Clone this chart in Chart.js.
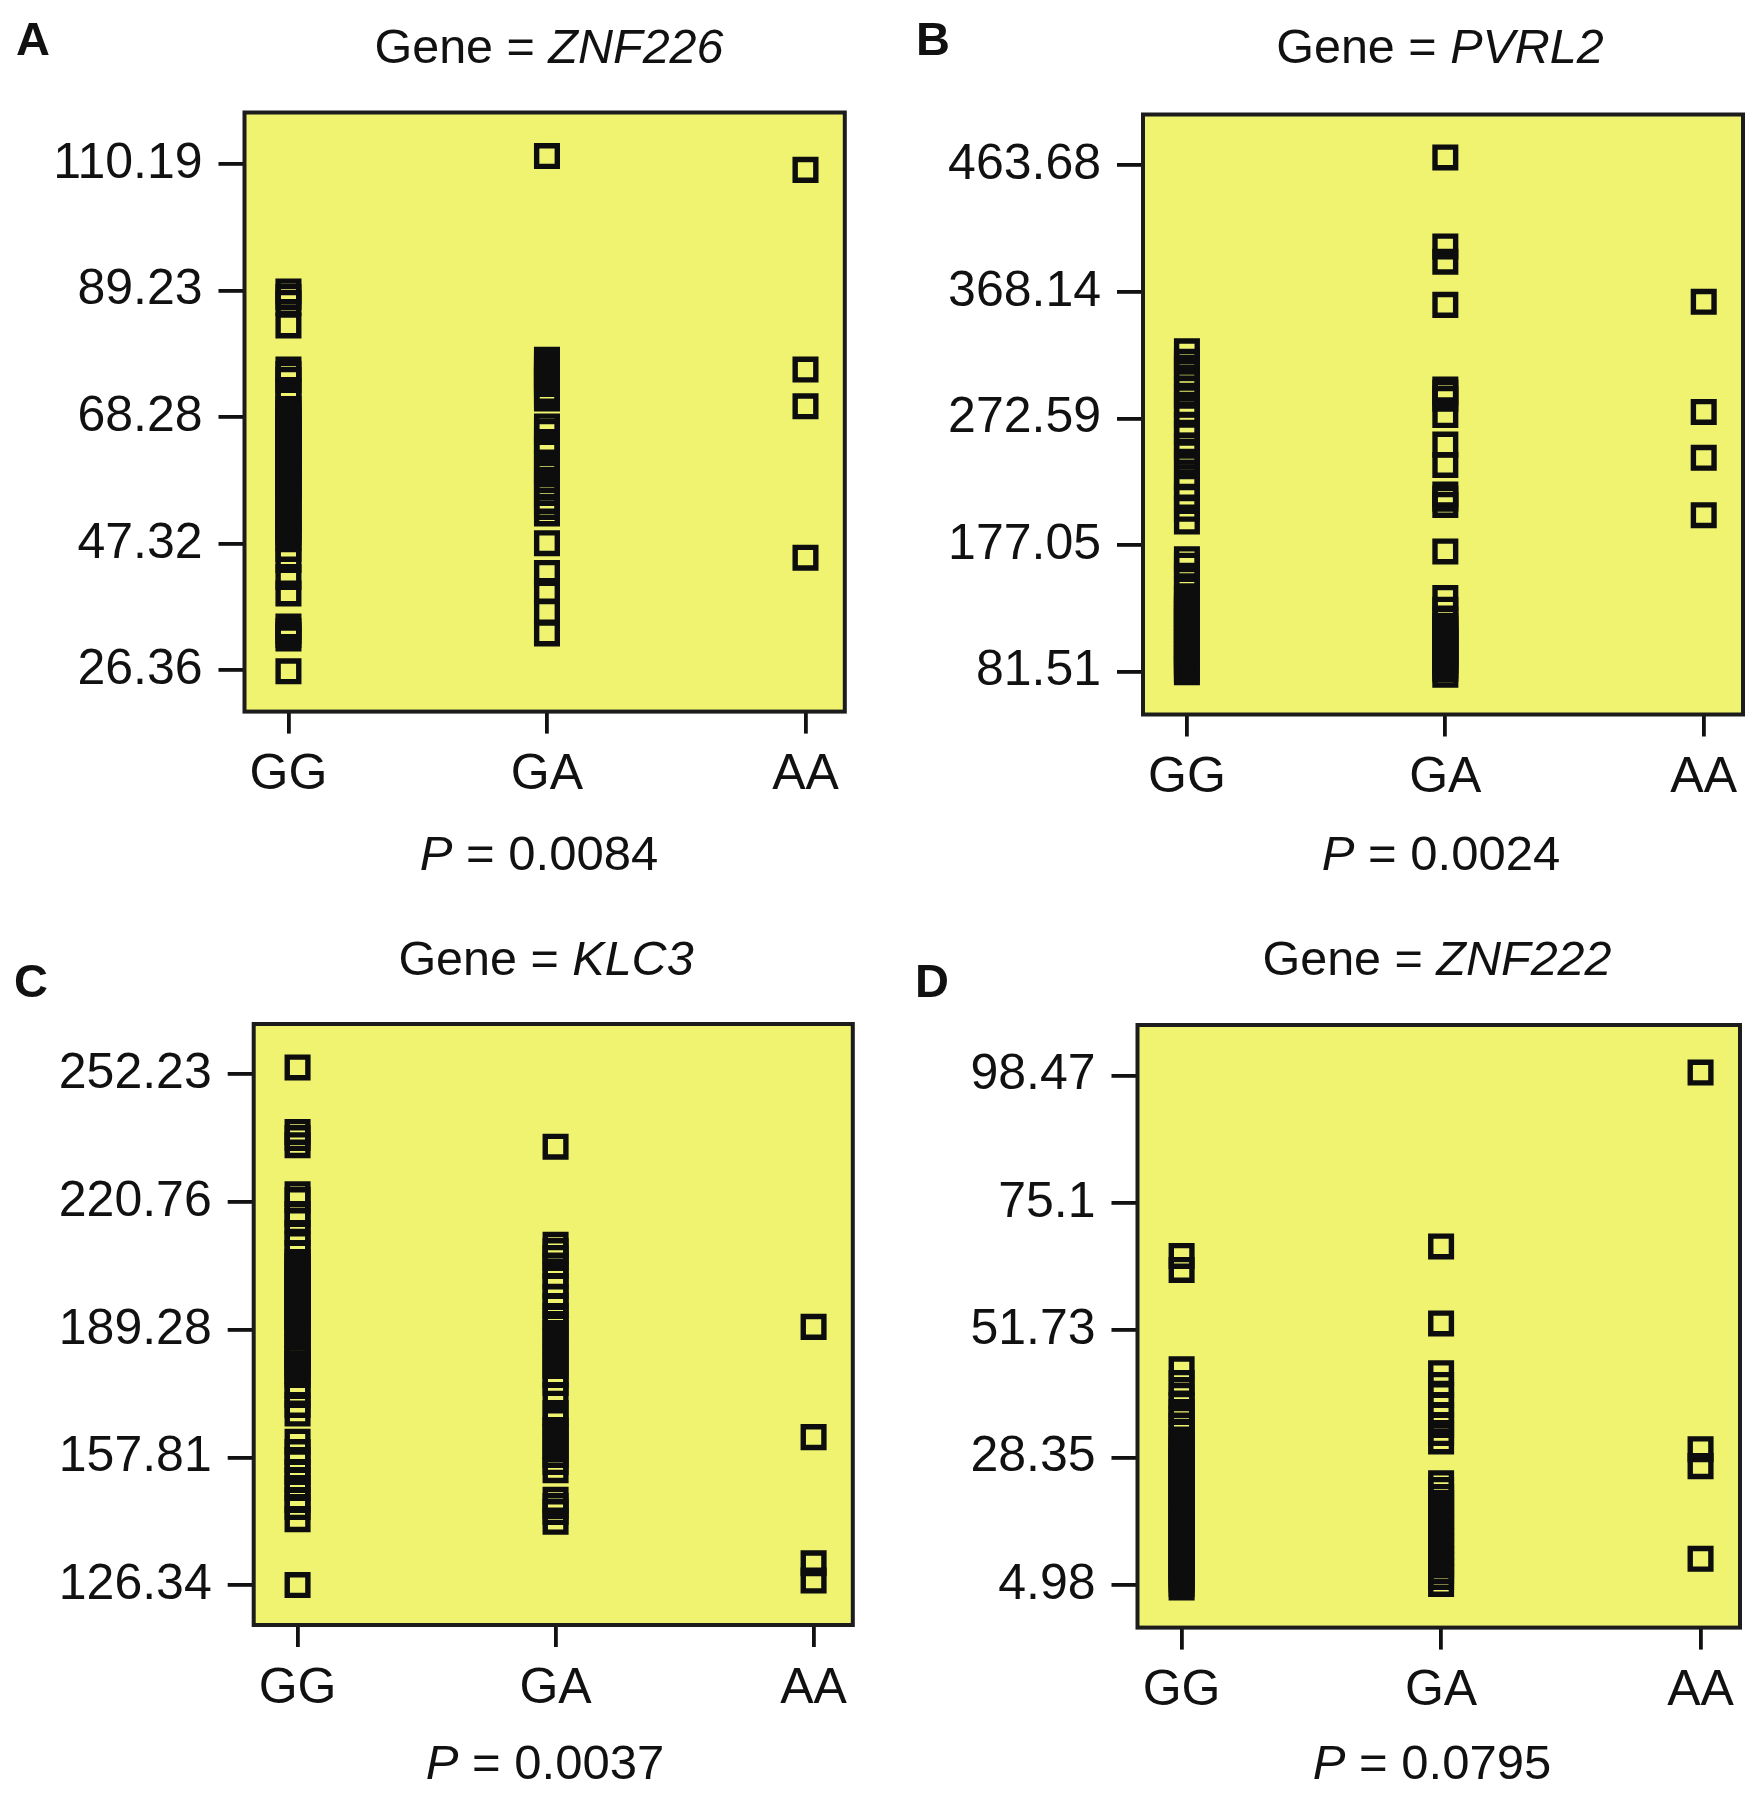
<!DOCTYPE html>
<html>
<head>
<meta charset="utf-8">
<script src="https://cdn.jsdelivr.net/npm/chart.js@4/dist/chart.umd.min.js"></script>
<style>
  html,body{margin:0;padding:0;background:#fff;}
  body{width:1763px;height:1800px;position:relative;overflow:hidden;font-family:"Liberation Sans",Arial,Helvetica,sans-serif;color:#111;}
  .cv{position:absolute;}
  .t{position:absolute;font-size:48.5px;line-height:1;white-space:nowrap;color:#111;}
  .p{font-size:49px;}
  .c{transform:translateX(-50%);}
  .b{font-weight:bold;font-size:47px;}
</style>
</head>
<body>
<div class="cv" style="left:0;top:0;"><canvas id="cA" width="880" height="900"></canvas></div>
<div class="cv" style="left:880px;top:0;"><canvas id="cB" width="883" height="900"></canvas></div>
<div class="cv" style="left:0;top:900px;"><canvas id="cC" width="880" height="900"></canvas></div>
<div class="cv" style="left:880px;top:900px;"><canvas id="cD" width="883" height="900"></canvas></div>

<div class="t b" style="left:16px;top:15px;">A</div>
<div class="t c" style="left:549px;top:22px;">Gene = <i>ZNF226</i></div>
<div class="t c p" style="left:539px;top:829px;"><i>P</i> = 0.0084</div>

<div class="t b" style="left:916px;top:15px;">B</div>
<div class="t c" style="left:1440px;top:22px;">Gene = <i>PVRL2</i></div>
<div class="t c p" style="left:1441px;top:829px;"><i>P</i> = 0.0024</div>

<div class="t b" style="left:14px;top:957px;">C</div>
<div class="t c" style="left:546px;top:934px;">Gene = <i>KLC3</i></div>
<div class="t c p" style="left:545px;top:1738px;"><i>P</i> = 0.0037</div>

<div class="t b" style="left:915px;top:957px;">D</div>
<div class="t c" style="left:1437px;top:934px;">Gene = <i>ZNF222</i></div>
<div class="t c p" style="left:1432px;top:1738px;"><i>P</i> = 0.0795</div>

<script>
// ---------- data ----------
const categories = ["GG", "GA", "AA"];

// Panel A : ZNF226
const A_ticks = [26.36, 47.32, 68.28, 89.23, 110.19];
const A_GG = [89.09, 88.18, 87.19, 83.46, 76.18, 75.43, 74.44, 72.62, 71.13, 69.64,
  68.9, 68.3, 67.8, 67.1, 66.6, 66.0, 65.4, 64.9, 64.3, 63.7, 63.1, 62.6, 62.0, 61.4,
  60.9, 60.2, 59.7, 59.1, 58.5, 57.9, 57.4, 56.8, 56.2, 55.6, 55.0, 54.4, 53.8,
  51.75, 51.09, 50.43, 49.77, 49.1, 48.28, 46.46, 44.63, 41.82, 39.08,
  33.62, 32.88, 32.22, 31.64, 26.2];
const A_GA = [111.51, 77.78, 77.09, 76.43, 75.76, 75.27, 74.77, 74.27, 73.78, 72.62, 71.96, 71.38,
  66.74, 65.83, 64.17, 63.34, 62.52, 60.69, 59.70, 58.87, 57.88, 56.72, 55.73, 54.40, 53.41, 52.33,
  47.40, 42.48, 39.50, 36.02, 32.46];
const A_AA = [109.23, 76.16, 70.08, 45.00];

// Panel B : PVRL2
const B_ticks = [81.51, 177.05, 272.59, 368.14, 463.68];
const B_GG = [323.2, 315.28, 310.75, 303.21, 294.91, 289.63, 282.84, 275.29, 267.75, 261.71,
  251.91, 247.38, 239.84, 228.14, 220.97, 213.43, 204.38, 194.72,
  166.28, 161.37, 153.83, 143.27, 137.2, 134.5, 131.0, 128.4, 125.0, 122.3, 119.0, 116.2,
  113.0, 110.3, 107.0, 104.2, 101.0, 98.3, 95.0, 92.1, 89.0, 86.0, 83.5, 81.0];
const B_GA = [469.56, 402.42, 390.88, 358.28, 294.31, 291.89, 287.36, 275.14, 252.81, 237.42,
  215.09, 211.92, 207.24, 172.16, 137.08, 128.18, 120.63, 116.1, 113.3, 110.0, 107.2, 104.0,
  101.3, 98.0, 95.2, 92.0, 89.1, 86.0, 83.2, 79.14];
const B_AA = [360.62, 277.48, 242.85, 199.55];

// Panel C : KLC3
const C_ticks = [126.34, 157.81, 189.28, 220.76, 252.23];
const C_GG = [253.93, 238.03, 236.53, 234.76, 222.68, 221.25, 217.8, 216.07, 213.12, 210.41,
  208.19, 205.97, 204.98, 204.1, 203.2, 201.9, 201.2, 199.9, 199.2, 198.1, 196.9, 196.2, 195.1,
  193.9, 193.2, 192.1, 190.9, 190.2, 189.2, 187.9, 185.0, 184.1, 183.0, 182.2, 181.0, 180.2,
  179.0, 178.1, 175.41, 173.19, 170.73, 168.63, 161.68, 159.14, 157.17, 154.21, 152.24, 150.27,
  147.31, 145.59, 142.6, 126.36];
const C_GA = [234.39, 210.21, 208.68, 206.96, 204.98, 202.52, 200.05, 197.34, 195.13, 192.66,
  190.69, 188.47, 186.5, 184.28, 182.31, 180.34, 178.12, 176.15, 173.19, 168.75, 166.78, 164.56,
  162.84, 160.62, 158.4, 156.68, 154.66, 147.36, 145.83, 144.35, 141.94];
const C_AA = [189.98, 162.81, 131.71, 127.47];

// Panel D : ZNF222
const D_ticks = [4.98, 28.35, 51.73, 75.1, 98.47];
const D_GG = [65.36, 62.79, 44.55, 42.06, 39.67, 38.02, 36.74, 35.45, 34.17, 33.07, 31.6, 30.86,
  30.1, 29.4, 28.7, 27.9, 27.2, 26.5, 25.7, 25.0, 24.3, 23.5, 22.8, 22.1, 21.3, 20.6, 19.9, 19.1,
  18.4, 17.7, 17.0, 16.2, 15.5, 14.8, 14.1, 13.3, 12.6, 11.9, 11.1, 10.4, 9.7, 8.9, 8.2, 7.5,
  6.8, 6.0, 5.2, 4.54];
const D_GA = [67.1, 52.97, 43.85, 41.69, 39.85, 38.02, 36.19, 34.35, 32.88, 31.34, 23.67, 22.43,
  21.14, 20.04, 18.94, 17.66, 16.56, 15.45, 14.17, 13.07, 11.97, 10.87, 9.77, 8.67, 7.57, 6.47, 5.18];
const D_AA = [99.0, 29.9, 26.8, 9.8];

// ---------- drawing ----------
const FONT = '"Liberation Sans", Arial, Helvetica, sans-serif';
const PLOT_BG = '#eff370';
const INK = '#0d0d0d';
const MARK_W = 5.4;
const MARK_R = 14.6;

const boxPlugin = {
  id: 'panelBox',
  beforeDraw(chart) {
    const { ctx, chartArea: a } = chart;
    ctx.save();
    ctx.fillStyle = PLOT_BG;
    ctx.fillRect(a.left, a.top, a.right - a.left, a.bottom - a.top);
    ctx.restore();
  },
  afterDraw(chart) {
    const { ctx, chartArea: a } = chart;
    ctx.save();
    ctx.strokeStyle = '#1c1c1c';
    ctx.lineWidth = 4;
    ctx.strokeRect(a.left, a.top, a.right - a.left, a.bottom - a.top);
    ctx.restore();
  }
};

function makePanel(id, groups, ticks, yMin, yMax, area, size) {
  const pts = [];
  groups.forEach((arr, gi) => arr.forEach(v => pts.push({ x: gi, y: v })));
  new Chart(document.getElementById(id), {
    type: 'scatter',
    data: {
      datasets: [{
        data: pts,
        pointStyle: 'rect',
        pointRadius: MARK_R,
        pointHoverRadius: MARK_R,
        pointBorderWidth: MARK_W,
        borderWidth: MARK_W,
        borderColor: INK,
        pointBorderColor: INK,
        backgroundColor: 'rgba(0,0,0,0)',
        pointBackgroundColor: 'rgba(0,0,0,0)',
        showLine: false
      }]
    },
    options: {
      responsive: false,
      animation: false,
      events: [],
      elements: { point: { borderWidth: MARK_W, radius: MARK_R, pointStyle: 'rect' } },
      layout: { padding: { left: 0, top: area.top, right: size.w - area.right, bottom: 0 } },
      plugins: { legend: { display: false }, tooltip: { enabled: false }, title: { display: false } },
      scales: {
        x: {
          type: 'linear',
          min: -0.17,
          max: 2.152,
          afterBuildTicks: s => { s.ticks = categories.map((c, i) => ({ value: i })); },
          afterFit: s => { s.height = size.h - area.bottom; },
          border: { display: false },
          grid: { drawOnChartArea: false, drawTicks: true, tickLength: 22, color: '#111', lineWidth: 3.8 },
          ticks: {
            autoSkip: false, maxRotation: 0, padding: 12, color: '#111',
            font: { family: FONT, size: 50 },
            callback: v => categories[Math.round(v)]
          }
        },
        y: {
          type: 'linear',
          min: yMin,
          max: yMax,
          afterBuildTicks: s => { s.ticks = ticks.map(v => ({ value: v })); },
          afterFit: s => { s.width = area.left; },
          border: { display: false },
          grid: { drawOnChartArea: false, drawTicks: true, tickLength: 26, color: '#111', lineWidth: 3.8 },
          ticks: {
            autoSkip: false, padding: 16, color: '#111',
            font: { family: FONT, size: 50 },
            callback: v => String(v)
          }
        }
      }
    },
    plugins: [boxPlugin]
  });
}

makePanel('cA', [A_GG, A_GA, A_AA], A_ticks, 19.52, 118.73,
  { left: 244.5, top: 112.5, right: 844.8, bottom: 711.6 }, { w: 880, h: 900 });
makePanel('cB', [B_GG, B_GA, B_AA], B_ticks, 49.07, 502.0,
  { left: 263, top: 114.5, right: 864.7, bottom: 714.5 }, { w: 883, h: 900 });
makePanel('cC', [C_GG, C_GA, C_AA], C_ticks, 116.51, 264.63,
  { left: 253.7, top: 124, right: 852.8, bottom: 725 }, { w: 880, h: 900 });
makePanel('cD', [D_GG, D_GA, D_AA], D_ticks, -2.82, 107.73,
  { left: 257.5, top: 125, right: 860, bottom: 727.6 }, { w: 883, h: 900 });
</script>
</body>
</html>
